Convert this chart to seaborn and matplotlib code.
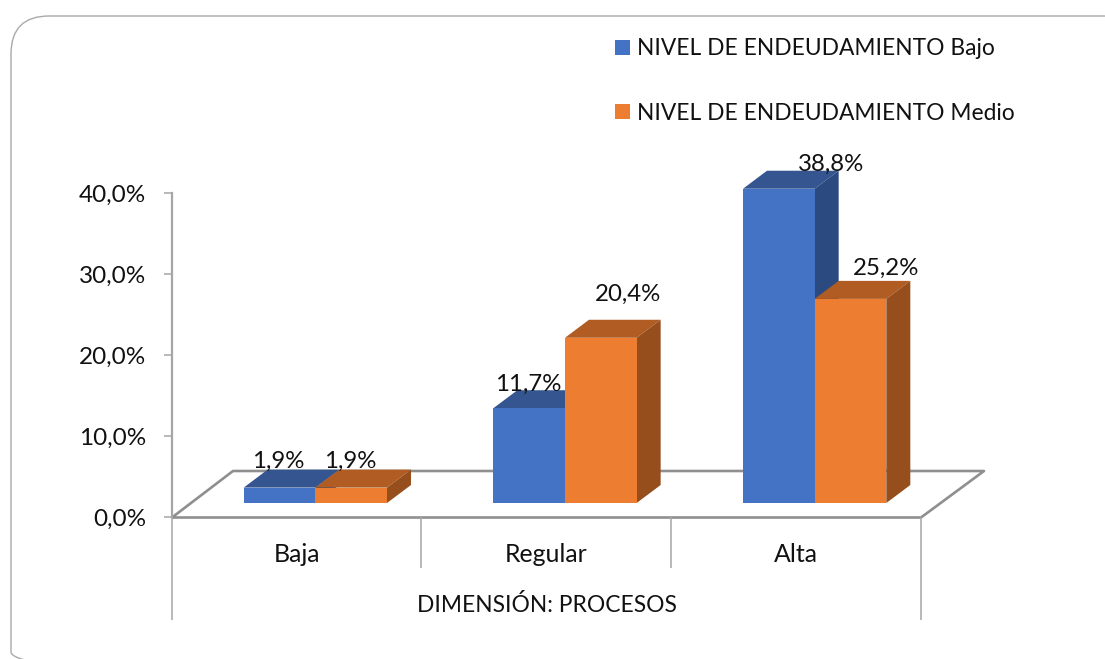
import matplotlib
matplotlib.use("Agg")
import matplotlib.pyplot as plt
import pandas as pd
import seaborn as sns
from matplotlib.lines import Line2D
from matplotlib.patches import FancyBboxPatch, Polygon, Patch

categories = ["Baja", "Regular", "Alta"]
bajo = [1.9, 11.7, 38.8]
medio = [1.9, 20.4, 25.2]
series_names = ["NIVEL DE ENDEUDAMIENTO Bajo", "NIVEL DE ENDEUDAMIENTO Medio"]
y_ticks = [0, 10, 20, 30, 40]
group_title = "DIMENSIÓN: PROCESOS"

W, H = 1105, 659
FRONT = ["#4472C4", "#ED7D31"]
TOP = ["#34558F", "#B05C22"]
SIDE = ["#2A4A80", "#954E1C"]
GRID = "#A6A6A6"
FLOOR = "#8F8F8F"
FONT = "Lato"

sns.set_style("white")
plt.rcParams["font.family"] = [FONT, "DejaVu Sans"]

df = pd.DataFrame({
    "cat": categories * 2,
    "val": bajo + medio,
    "serie": [series_names[0]] * 3 + [series_names[1]] * 3,
})

fig = plt.figure(figsize=(W / 100, H / 100), dpi=100, facecolor="white")


def rect(l, t, r, b):
    return [l / W, 1 - b / H, (r - l) / W, (b - t) / H]


def fx(x):
    return x / W


def fy(y):
    return 1 - y / H


def line(xs, ys, color=GRID, lw=1.1, z=1):
    fig.add_artist(Line2D([fx(x) for x in xs], [fy(y) for y in ys], color=color,
                          lw=lw, zorder=z, solid_capstyle="butt"))


# rounded outer frame
frame_ax = fig.add_axes([0, 0, 1, 1], zorder=0)
frame_ax.set_xlim(0, W)
frame_ax.set_ylim(H, 0)
frame_ax.axis("off")
frame_ax.add_patch(FancyBboxPatch((11, 16), 1131, 674, boxstyle="round,pad=0,rounding_size=38",
                                  fill=False, ec="#A9A9A9", lw=1.0, clip_on=True))

# value axis + category axis
ax = fig.add_axes(rect(172, 193, 921, 517), zorder=1)
ax.patch.set_alpha(0)
ax.set_ylim(0, 40)
ax.set_xlim(-0.5, 2.5)
ax.set_yticks(y_ticks)
ax.set_yticklabels([f"{v:.1f}%".replace(".", ",") for v in y_ticks], fontsize=17.5, color="#111111")
ax.set_xticks(range(len(categories)))
ax.set_xticklabels(categories, fontsize=17.9, color="#111111")
ax.tick_params(axis="y", length=6, width=1.1, color=GRID, pad=12.5, left=True)
ax.tick_params(axis="x", length=0, pad=19)
for name, s in ax.spines.items():
    s.set_visible(name == "left")
ax.spines["left"].set_color(GRID)
ax.spines["left"].set_linewidth(1.6)

# floor of the 3D plot
line([172, 921, 984, 233, 172], [517.5, 517.5, 471, 471, 517.5], color=FLOOR, lw=1.9)
line([172, 172], [517, 620])
line([921, 921], [517, 620])
line([421, 421], [517, 568])
line([671, 671], [517, 568])
fig.text(fx(546.5), fy(604.5), group_title, ha="center", va="center", fontsize=16.4, color="#111111")

# bars: same scale, shifted into the depth of the floor
bx = fig.add_axes(rect(190.5, 179, 939.5, 503), zorder=2)
bx.patch.set_alpha(0)
sns.barplot(data=df, x="cat", y="val", hue="serie", order=categories, hue_order=series_names,
            palette=FRONT, width=0.574, saturation=1, gap=0, ax=bx, legend=False, zorder=3, linewidth=0)
bx.set_xlim(-0.5, 2.5)
bx.set_ylim(0, 40)
bx.axis("off")

DX = 24 / (749 / 3)
DY = 18 / 8.1
label_offsets = [[(-1, 26), (-1, 24), (52, 24)], [(-1, 26), (27, 43), (36, 31)]]
for s, cont in enumerate(bx.containers):
    for b, (ox, oy) in zip(cont.patches, label_offsets[s]):
        x0, w, h = b.get_x(), b.get_width(), b.get_height()
        x1 = x0 + w
        bx.add_patch(Polygon([(x0, h), (x1, h), (x1 + DX, h + DY), (x0 + DX, h + DY)], fc=TOP[s], ec="none",
                             zorder=1 + s, clip_on=False))
        bx.add_patch(Polygon([(x1, 0), (x1, h), (x1 + DX, h + DY), (x1 + DX, DY)], fc=SIDE[s], ec="none",
                             zorder=1 + s, clip_on=False))
        bx.annotate(f"{h:.1f}%".replace(".", ","), (x0 + w / 2, h), xytext=(ox, oy), textcoords="offset pixels",
                    ha="center", va="center", fontsize=17.3, color="#111111", zorder=6, annotation_clip=False)

# legend
handles = [Patch(fc=c, ec="none") for c in FRONT]
fig.legend(handles, series_names, loc="upper left", bbox_to_anchor=(fx(597), fy(20)), frameon=False,
           fontsize=16.4, handlelength=0.66, handleheight=0.66, handletextpad=0.31,
           labelspacing=1.9, borderpad=0.3, labelcolor="#111111")

fig.savefig("out.png", dpi=100, facecolor="white")
